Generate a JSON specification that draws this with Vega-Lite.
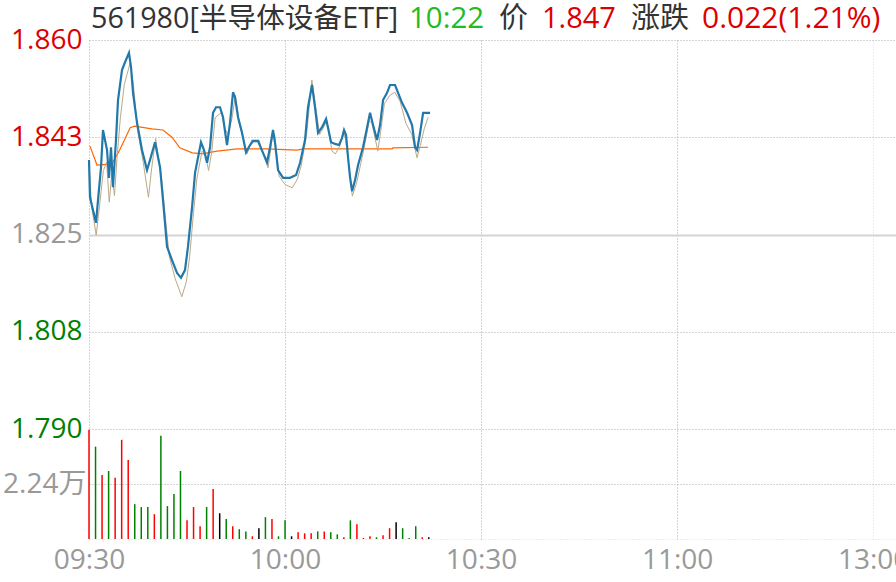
{
  "$schema": "https://vega.github.io/schema/vega-lite/v6.json",
  "autosize": "none",
  "width": 807,
  "height": 499,
  "padding": {"left": 89, "top": 40, "right": 0, "bottom": 43},
  "background": "white",
  "config": {
    "view": {"stroke": null},
    "font": "Open Sans, Noto Sans CJK SC",
    "axis": {"labelFont": "Open Sans, Noto Sans CJK SC", "labelFontSize": 28, "ticks": false, "domain": false, "title": null}
  },
  "datasets": {
    "price": [
      {"t": 0, "p": 1.8384}, {"t": 0.15, "p": 1.8317}, {"t": 1.07, "p": 1.8271}, {"t": 1.38, "p": 1.8312},
      {"t": 1.84, "p": 1.8371}, {"t": 2.14, "p": 1.8438}, {"t": 2.45, "p": 1.842}, {"t": 2.76, "p": 1.8402},
      {"t": 3.06, "p": 1.8352}, {"t": 3.37, "p": 1.8407}, {"t": 3.67, "p": 1.8335}, {"t": 4.13, "p": 1.842},
      {"t": 4.44, "p": 1.8492}, {"t": 5.05, "p": 1.8546}, {"t": 5.51, "p": 1.856}, {"t": 6.12, "p": 1.8577},
      {"t": 6.43, "p": 1.8551}, {"t": 6.74, "p": 1.8505}, {"t": 7.35, "p": 1.8451}, {"t": 8.11, "p": 1.8402},
      {"t": 8.88, "p": 1.8366}, {"t": 9.34, "p": 1.8384}, {"t": 10.1, "p": 1.8416}, {"t": 10.87, "p": 1.8371},
      {"t": 11.33, "p": 1.8312}, {"t": 11.94, "p": 1.8228}, {"t": 12.7, "p": 1.8204}, {"t": 13.47, "p": 1.8181},
      {"t": 14.08, "p": 1.8172}, {"t": 14.69, "p": 1.8186}, {"t": 15.15, "p": 1.8228}, {"t": 15.77, "p": 1.8299},
      {"t": 16.23, "p": 1.8361}, {"t": 17.14, "p": 1.8416}, {"t": 17.6, "p": 1.8402}, {"t": 18.06, "p": 1.8379},
      {"t": 18.52, "p": 1.8407}, {"t": 18.98, "p": 1.8469}, {"t": 19.44, "p": 1.8479}, {"t": 20.05, "p": 1.8479},
      {"t": 20.51, "p": 1.8461}, {"t": 21.12, "p": 1.8411}, {"t": 21.58, "p": 1.8451}, {"t": 22.04, "p": 1.8506},
      {"t": 22.35, "p": 1.8497}, {"t": 22.81, "p": 1.8461}, {"t": 23.42, "p": 1.8433}, {"t": 24.03, "p": 1.8398},
      {"t": 24.64, "p": 1.8411}, {"t": 25.1, "p": 1.8418}, {"t": 25.87, "p": 1.8418}, {"t": 26.63, "p": 1.8397},
      {"t": 27.25, "p": 1.838}, {"t": 27.71, "p": 1.8407}, {"t": 28.16, "p": 1.8438}, {"t": 28.47, "p": 1.8415},
      {"t": 28.93, "p": 1.8366}, {"t": 29.7, "p": 1.8352}, {"t": 30.77, "p": 1.8352}, {"t": 31.69, "p": 1.8357},
      {"t": 32.3, "p": 1.8379}, {"t": 33.06, "p": 1.842}, {"t": 33.52, "p": 1.8479}, {"t": 34.13, "p": 1.8519},
      {"t": 34.59, "p": 1.8479}, {"t": 35.05, "p": 1.8433}, {"t": 35.67, "p": 1.8443}, {"t": 36.28, "p": 1.8458},
      {"t": 36.58, "p": 1.8442}, {"t": 37.04, "p": 1.8416}, {"t": 37.66, "p": 1.8413}, {"t": 38.27, "p": 1.8411},
      {"t": 38.73, "p": 1.8424}, {"t": 39.03, "p": 1.8438}, {"t": 39.34, "p": 1.8429}, {"t": 39.64, "p": 1.8389},
      {"t": 39.95, "p": 1.8353}, {"t": 40.26, "p": 1.8328}, {"t": 40.72, "p": 1.8348}, {"t": 41.18, "p": 1.8375},
      {"t": 41.94, "p": 1.8407}, {"t": 42.55, "p": 1.8442}, {"t": 43.01, "p": 1.8469}, {"t": 43.47, "p": 1.8447},
      {"t": 44.08, "p": 1.842}, {"t": 44.54, "p": 1.8447}, {"t": 45.0, "p": 1.8492}, {"t": 45.61, "p": 1.8505},
      {"t": 46.07, "p": 1.8519}, {"t": 46.84, "p": 1.8519}, {"t": 47.3, "p": 1.8505}, {"t": 47.91, "p": 1.8487},
      {"t": 48.68, "p": 1.8469}, {"t": 49.44, "p": 1.8447}, {"t": 49.9, "p": 1.8407}, {"t": 50.21, "p": 1.8402},
      {"t": 50.67, "p": 1.8433}, {"t": 51.13, "p": 1.8469}, {"t": 52.2, "p": 1.8469}
    ],
    "iopv": [
      {"t": 0.1, "p": 1.8360}, {"t": 0.4, "p": 1.8300}, {"t": 1.1, "p": 1.8249}, {"t": 1.6, "p": 1.8300},
      {"t": 2.2, "p": 1.8365}, {"t": 2.7, "p": 1.8380}, {"t": 3.1, "p": 1.8308}, {"t": 3.5, "p": 1.8360},
      {"t": 3.9, "p": 1.8320}, {"t": 4.3, "p": 1.8390}, {"t": 4.8, "p": 1.8460}, {"t": 5.4, "p": 1.8520},
      {"t": 6.3, "p": 1.8559}, {"t": 6.8, "p": 1.8520}, {"t": 7.4, "p": 1.8440}, {"t": 8.3, "p": 1.8380},
      {"t": 9.1, "p": 1.8317}, {"t": 9.6, "p": 1.8370}, {"t": 10.2, "p": 1.8423}, {"t": 11.1, "p": 1.8350},
      {"t": 11.6, "p": 1.8290}, {"t": 12.3, "p": 1.8210}, {"t": 13.2, "p": 1.8170}, {"t": 14.2, "p": 1.8138},
      {"t": 14.9, "p": 1.8165}, {"t": 15.4, "p": 1.8210}, {"t": 16.0, "p": 1.8290}, {"t": 16.5, "p": 1.8350},
      {"t": 17.3, "p": 1.8400}, {"t": 17.8, "p": 1.8395}, {"t": 18.3, "p": 1.8365}, {"t": 18.8, "p": 1.8400},
      {"t": 19.3, "p": 1.8460}, {"t": 20.3, "p": 1.8470}, {"t": 20.8, "p": 1.8440}, {"t": 21.3, "p": 1.8430},
      {"t": 21.9, "p": 1.8460}, {"t": 22.4, "p": 1.8500}, {"t": 23.0, "p": 1.8450}, {"t": 24.2, "p": 1.8395},
      {"t": 24.9, "p": 1.8420}, {"t": 26.0, "p": 1.8420}, {"t": 26.8, "p": 1.8390}, {"t": 27.4, "p": 1.8370},
      {"t": 28.0, "p": 1.8420}, {"t": 28.4, "p": 1.8430}, {"t": 29.1, "p": 1.8355}, {"t": 30.0, "p": 1.8340},
      {"t": 31.1, "p": 1.8334}, {"t": 31.9, "p": 1.8350}, {"t": 32.5, "p": 1.8375}, {"t": 33.3, "p": 1.8430},
      {"t": 34.1, "p": 1.8528}, {"t": 34.8, "p": 1.8470}, {"t": 35.3, "p": 1.8430}, {"t": 36.0, "p": 1.8445},
      {"t": 36.4, "p": 1.8455}, {"t": 37.2, "p": 1.8400}, {"t": 37.7, "p": 1.8395}, {"t": 38.4, "p": 1.8410},
      {"t": 38.9, "p": 1.8435}, {"t": 39.3, "p": 1.8420}, {"t": 40.3, "p": 1.8319}, {"t": 41.0, "p": 1.8345},
      {"t": 42.0, "p": 1.8400}, {"t": 42.9, "p": 1.8455}, {"t": 43.3, "p": 1.8450}, {"t": 44.2, "p": 1.8400},
      {"t": 44.7, "p": 1.8440}, {"t": 45.2, "p": 1.8485}, {"t": 46.0, "p": 1.8500}, {"t": 46.8, "p": 1.8506},
      {"t": 47.6, "p": 1.8490}, {"t": 48.5, "p": 1.8450}, {"t": 49.4, "p": 1.8430}, {"t": 50.2, "p": 1.8388},
      {"t": 50.7, "p": 1.8410}, {"t": 51.3, "p": 1.8440}, {"t": 51.9, "p": 1.8461}
    ],
    "avg": [
      {"t": 0.15, "p": 1.8409}, {"t": 1.22, "p": 1.8375}, {"t": 3.5, "p": 1.8377}, {"t": 4.7, "p": 1.8402},
      {"t": 6.3, "p": 1.8442}, {"t": 7.0, "p": 1.8445}, {"t": 9.6, "p": 1.844}, {"t": 11.3, "p": 1.8438},
      {"t": 12.7, "p": 1.8425}, {"t": 13.9, "p": 1.8406}, {"t": 15.8, "p": 1.8397}, {"t": 17.6, "p": 1.8395},
      {"t": 18.1, "p": 1.8397}, {"t": 19.6, "p": 1.84}, {"t": 22.7, "p": 1.8404}, {"t": 27.2, "p": 1.8404},
      {"t": 31.8, "p": 1.8402}, {"t": 32.8, "p": 1.8404}, {"t": 46.4, "p": 1.8404}, {"t": 46.5, "p": 1.8406},
      {"t": 51.9, "p": 1.8407}
    ],
    "vol": [
      {"t": 0, "v": 4.45, "d": "up"}, {"t": 1, "v": 3.76, "d": "down"}, {"t": 2, "v": 2.61, "d": "up"},
      {"t": 3, "v": 2.77, "d": "down"}, {"t": 4, "v": 2.49, "d": "up"}, {"t": 5, "v": 4.04, "d": "up"},
      {"t": 6, "v": 3.22, "d": "up"}, {"t": 7, "v": 1.42, "d": "down"}, {"t": 8, "v": 1.30, "d": "down"},
      {"t": 9, "v": 1.30, "d": "down"}, {"t": 10, "v": 1.01, "d": "up"}, {"t": 11, "v": 4.21, "d": "down"},
      {"t": 12, "v": 1.34, "d": "down"}, {"t": 13, "v": 1.83, "d": "down"}, {"t": 14, "v": 2.77, "d": "down"},
      {"t": 15, "v": 0.76, "d": "up"}, {"t": 16, "v": 1.30, "d": "up"}, {"t": 17, "v": 0.52, "d": "up"},
      {"t": 18, "v": 1.30, "d": "down"}, {"t": 19, "v": 2.04, "d": "up"}, {"t": 20, "v": 1.05, "d": "flat"},
      {"t": 21, "v": 0.81, "d": "down"}, {"t": 22, "v": 0.52, "d": "up"}, {"t": 23, "v": 0.40, "d": "down"},
      {"t": 24, "v": 0.31, "d": "down"}, {"t": 25, "v": 0.11, "d": "up"}, {"t": 26, "v": 0.44, "d": "flat"},
      {"t": 27, "v": 0.89, "d": "down"}, {"t": 28, "v": 0.81, "d": "up"}, {"t": 29, "v": 0.11, "d": "down"},
      {"t": 30, "v": 0.76, "d": "down"}, {"t": 31, "v": 0.11, "d": "flat"}, {"t": 32, "v": 0.27, "d": "up"},
      {"t": 33, "v": 0.23, "d": "up"}, {"t": 34, "v": 0.23, "d": "up"}, {"t": 35, "v": 0.31, "d": "down"},
      {"t": 36, "v": 0.31, "d": "up"}, {"t": 37, "v": 0.27, "d": "down"}, {"t": 38, "v": 0.19, "d": "down"},
      {"t": 39, "v": 0.07, "d": "up"}, {"t": 40, "v": 0.76, "d": "down"}, {"t": 41, "v": 0.60, "d": "up"},
      {"t": 42, "v": 0.04, "d": "up"}, {"t": 43, "v": 0.11, "d": "up"}, {"t": 44, "v": 0.07, "d": "down"},
      {"t": 45, "v": 0.15, "d": "up"}, {"t": 46, "v": 0.44, "d": "up"}, {"t": 47, "v": 0.68, "d": "flat"},
      {"t": 48, "v": 0.44, "d": "down"}, {"t": 49, "v": 0.04, "d": "down"}, {"t": 50, "v": 0.52, "d": "down"},
      {"t": 51, "v": 0.07, "d": "up"}, {"t": 52, "v": 0.07, "d": "flat"}
    ]
  },
  "layer": [
    {
      "data": {"name": "vol"},
      "mark": {"type": "rule", "strokeWidth": 1.5},
      "encoding": {
        "x": {"field": "t", "type": "quantitative", "scale": {"domain": [0, 123.5], "nice": false, "zero": false},
          "axis": {"values": [0, 30, 60, 90, 120], "labelExpr": "datum.value == 0 ? '09:30' : datum.value == 30 ? '10:00' : datum.value == 60 ? '10:30' : datum.value == 90 ? '11:00' : '13:00'",
            "labelColor": "#999999", "labelFlush": false, "labelBound": false, "labelOverlap": false, "labelPadding": 7,
            "grid": true, "gridDash": [1, 2], "gridColor": {"condition": {"test": "datum.value == 120", "value": "#dddddd"}, "value": "#aaaaaa"}}},
        "y": {"field": "v", "type": "quantitative", "scale": {"domain": [0, 20.323], "nice": false, "zero": true},
          "axis": {"orient": "left", "values": [0, 2.24], "labelExpr": "datum.value == 0 ? '' : '2.24万'", "labelColor": "#999999", "labelPadding": 3,
            "grid": true, "gridDash": [1, 2], "gridColor": {"condition": {"test": "datum.value == 0", "value": "#dddddd"}, "value": "#aaaaaa"}}},
        "y2": {"datum": 0},
        "color": {"field": "d", "type": "nominal", "scale": {"domain": ["up", "down", "flat"], "range": ["#ff0000", "#008000", "#000000"]}, "legend": null}
      }
    },
    {
      "layer": [
        {
          "data": {"name": "avg"},
          "mark": {"type": "line", "color": "#ff6600", "strokeWidth": 1.2},
          "encoding": {
            "x": {"field": "t", "type": "quantitative", "scale": {"domain": [0, 123.5], "nice": false, "zero": false}},
            "y": {"field": "p", "type": "quantitative", "scale": {"domain": [1.770206, 1.86], "nice": false, "zero": false},
              "axis": {"orient": "left", "values": [1.79, 1.8075, 1.825, 1.8425, 1.86], "labelExpr": "format(datum.value + 0.00001, '.3f')", "labelPadding": 7,
                "labelColor": {"condition": [{"test": "datum.value > 1.826", "value": "#dd0000"}, {"test": "datum.value < 1.824", "value": "#008000"}], "value": "#999999"},
                "grid": true,
                "gridDash": {"condition": {"test": "abs(datum.value - 1.825) < 0.0001", "value": []}, "value": [1, 2]},
                "gridColor": {"condition": {"test": "abs(datum.value - 1.825) < 0.0001", "value": "#d4d4d4"}, "value": "#aaaaaa"},
                "gridWidth": {"condition": {"test": "abs(datum.value - 1.825) < 0.0001", "value": 2}, "value": 1}}}
          }
        },
        {
          "data": {"name": "iopv"},
          "mark": {"type": "line", "color": "#bba888", "strokeWidth": 1},
          "encoding": {
            "x": {"field": "t", "type": "quantitative"},
            "y": {"field": "p", "type": "quantitative"}
          }
        },
        {
          "data": {"name": "price"},
          "mark": {"type": "line", "color": "#2178aa", "strokeWidth": 2.2},
          "encoding": {
            "x": {"field": "t", "type": "quantitative"},
            "y": {"field": "p", "type": "quantitative"}
          }
        }
      ]
    },
    {
      "data": {"values": [{}]},
      "layer": [
        {"mark": {"type": "text", "text": "561980[半导体设备ETF]", "x": 2, "y": -12, "align": "left", "baseline": "alphabetic", "fontSize": 28.7, "color": "#333333"}},
        {"mark": {"type": "text", "text": "10:22", "x": 320, "y": -12, "align": "left", "baseline": "alphabetic", "fontSize": 29.5, "color": "#22bb22"}},
        {"mark": {"type": "text", "text": "价", "x": 410, "y": -12, "align": "left", "baseline": "alphabetic", "fontSize": 29, "color": "#333333"}},
        {"mark": {"type": "text", "text": "1.847", "x": 453, "y": -12, "align": "left", "baseline": "alphabetic", "fontSize": 29, "color": "#dd0000"}},
        {"mark": {"type": "text", "text": "涨跌", "x": 542, "y": -12, "align": "left", "baseline": "alphabetic", "fontSize": 29, "color": "#333333"}},
        {"mark": {"type": "text", "text": "0.022(1.21%)", "x": 613, "y": -12, "align": "left", "baseline": "alphabetic", "fontSize": 30, "color": "#dd0000"}}
      ]
    }
  ],
  "resolve": {"scale": {"y": "independent"}}
}
